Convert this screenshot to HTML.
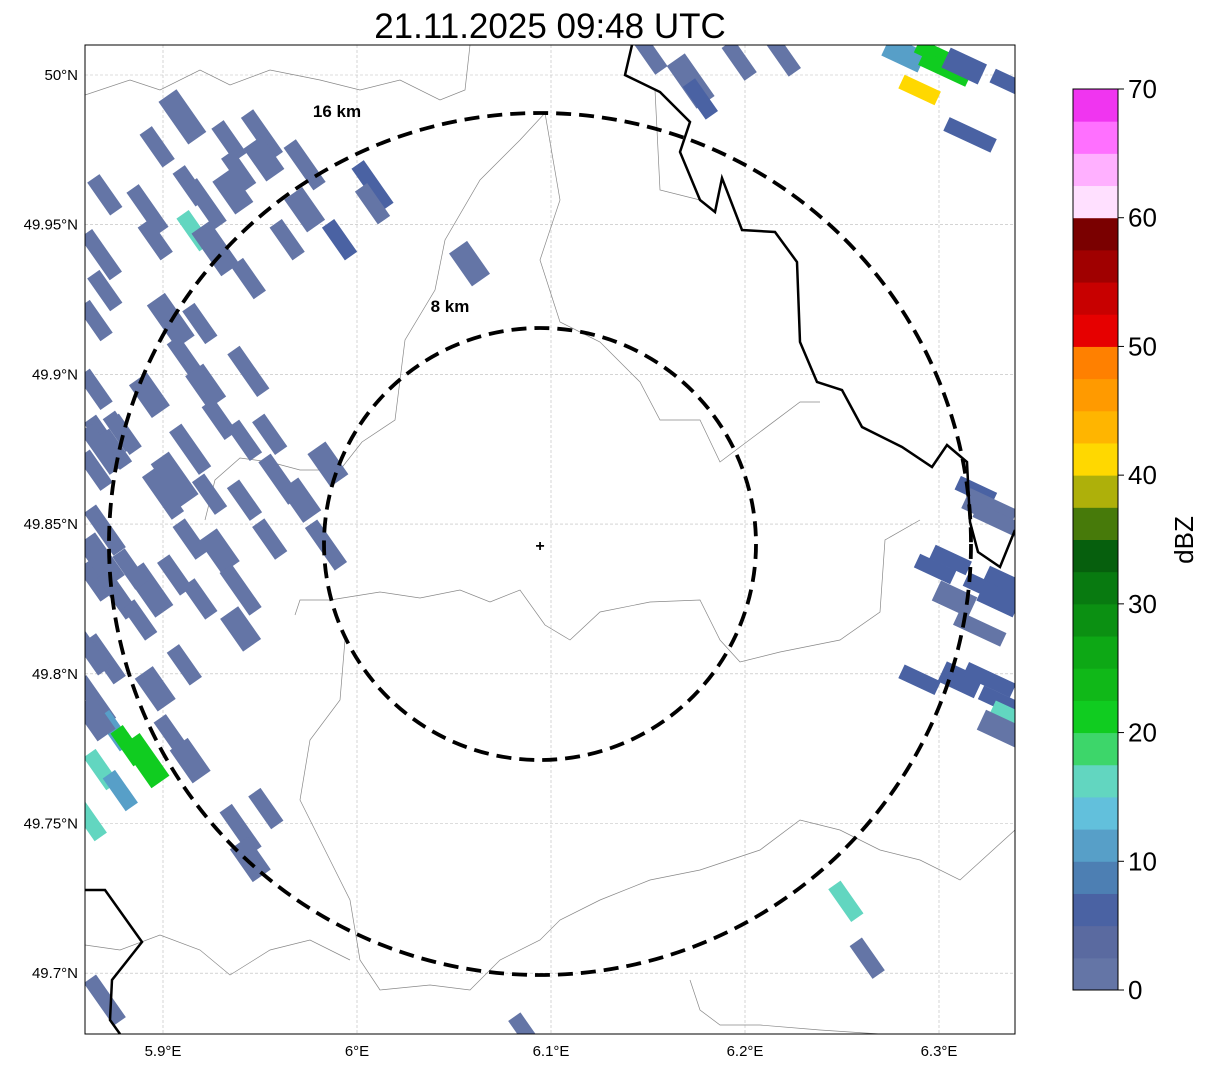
<!DOCTYPE html>
<html><head><meta charset="utf-8"><style>
body{margin:0;background:#fff;}
svg text{font-family:"Liberation Sans",sans-serif;}
</style></head><body>
<svg width="1207" height="1069" viewBox="0 0 1207 1069" xmlns="http://www.w3.org/2000/svg">
<text x="550" y="38" font-size="35" text-anchor="middle">21.11.2025 09:48 UTC</text>
<defs><clipPath id="mc"><rect x="85" y="45" width="930" height="989"/></clipPath></defs>
<g id="grid"></g>
<g clip-path="url(#mc)">
<g id="borders" fill="none" stroke="#888" stroke-width="0.7">
<polyline points="295,615 300,600 330,600 380,592 420,598 460,590 490,602 520,590 545,625 570,640 600,612 650,602 700,600 720,640 740,662 780,652 840,640 880,612 885,540 920,520"/>
<polyline points="545,113 520,140 480,180 445,240 435,290 405,340 395,420 362,442 340,470 300,470 270,462 240,458 215,480 205,520"/>
<polyline points="545,113 560,200 540,260 560,322 600,342 640,382 660,420 700,420 720,462 760,432 800,402 820,402"/>
<polyline points="85,95 130,80 160,90 200,70 230,85 270,70 320,80 360,90 400,80 440,100 465,90 470,45"/>
<polyline points="345,640 340,700 310,740 300,800 330,860 350,900 360,960 380,990 430,985 470,990 500,960 540,940 560,920 600,900 650,880 700,870 760,850 800,820 840,830 880,850 920,860 960,880 1015,830"/>
<polyline points="85,945 120,950 160,935 200,950 230,975 270,950 310,940 350,960"/>
<polyline points="690,980 700,1010 720,1025 760,1025 820,1030 880,1034"/>
<polyline points="655,90 660,190 700,200"/>
</g>
<g id="cells"></g>
<g fill="none" stroke="#000" stroke-width="2.5">
<polyline points="632,45 625,75 660,92 690,122 680,152 700,200 715,212 722,178 742,230 775,232 797,262 800,342 817,382 842,390 862,427 902,447 932,467 947,445 967,462 970,522 978,552 1000,567 1015,530"/>
<polyline points="85,890 105,890 142,942 112,980 110,1020 120,1034"/>
</g>
</g>
<g fill="none" stroke="#000" stroke-width="3.8" stroke-dasharray="15,8">
<circle cx="540" cy="544" r="431"/>
<circle cx="540" cy="544" r="216"/>
</g>
<text x="337" y="117" font-size="17" font-weight="bold" text-anchor="middle">16 km</text>
<text x="450" y="312" font-size="17" font-weight="bold" text-anchor="middle">8 km</text>
<text x="540" y="551" font-size="16" font-weight="bold" text-anchor="middle">+</text>
<rect x="85" y="45" width="930" height="989" fill="none" stroke="#000" stroke-width="1"/>
<g id="ticks"></g>
<g id="cbar"></g>
<text x="1193" y="540" font-size="26" text-anchor="middle" transform="rotate(-90 1193 540)">dBZ</text>
</svg>
<script>
const lonTicks=[5.9,6.0,6.1,6.2,6.3];
const lonLabels=["5.9°E","6°E","6.1°E","6.2°E","6.3°E"];
const latTicks=[50.0,49.95,49.9,49.85,49.8,49.75,49.7];
const latLabels=["50°N","49.95°N","49.9°N","49.85°N","49.8°N","49.75°N","49.7°N"];
const cbTicks=[0,10,20,30,40,50,60,70];
const cbColors=["#6475a6","#5a6aa0","#4a62a3","#4d7fb3","#579fc8","#62c0dc","#62d6c0","#3dd66a","#10cc20","#10b818","#0da815","#0b9012","#087a10","#065f0d","#477a0a","#aeb00a","#ffd800","#ffb500","#ff9a00","#ff8000","#e60000","#c80000","#a00000","#7a0000","#ffe0ff","#ffb0ff","#ff70ff","#f035f0"];
const cellLon=[5.910,5.897,5.934,5.951,5.952,5.914,5.922,5.939,5.936,5.892,5.896,5.916,5.927,5.944,5.964,5.973,5.973,5.991,6.008,6.008,6.058,5.868,5.870,5.865,5.904,5.919,5.911,5.944,5.922,5.865,5.870,5.875,5.893,5.914,5.929,5.942,5.906,5.924,5.942,5.960,5.971,5.955,5.984,5.914,5.929,5.870,5.865,5.878,5.893,5.906,5.919,5.940,5.940,5.888,5.870,5.911,5.896,5.865,5.875,5.882,5.891,5.868,5.878,5.906,5.914,5.862,5.940,5.953,5.945,5.870,6.087,6.151,6.172,6.177,6.197,6.218,6.282,6.298,6.303,6.290,6.313,6.316,6.337,6.319,6.326,6.306,6.298,6.326,6.331,6.334,6.321,6.290,6.311,6.326,6.331,6.337,6.334,6.252,6.263,6.331,6.308,5.880,5.900,5.955,5.985,5.868,5.878,5.865,5.868,5.875,5.883,5.862,5.865,5.870];
const cellLat=[49.986,49.976,49.978,49.980,49.972,49.963,49.957,49.968,49.961,49.955,49.945,49.948,49.942,49.932,49.945,49.970,49.955,49.945,49.963,49.957,49.937,49.940,49.928,49.918,49.918,49.917,49.906,49.901,49.896,49.895,49.878,49.875,49.893,49.875,49.885,49.878,49.865,49.860,49.858,49.865,49.858,49.845,49.843,49.845,49.841,49.848,49.831,49.825,49.828,49.833,49.825,49.828,49.815,49.818,49.805,49.803,49.795,49.791,49.781,49.776,49.771,49.768,49.761,49.778,49.771,49.751,49.748,49.755,49.738,49.691,49.680,50.007,49.998,49.992,50.005,50.008,50.007,50.007,50.002,49.995,50.003,49.980,49.997,49.861,49.855,49.838,49.835,49.828,49.825,49.831,49.815,49.798,49.798,49.798,49.791,49.786,49.781,49.724,49.705,49.851,49.825,49.880,49.860,49.880,49.870,49.875,49.881,49.868,49.838,49.828,49.835,49.808,49.785,49.960];
const cellDbz=[2,2,2,2,2,2,2,2,2,2,2,15,2,2,2,2,2,5,7,2,2,2,2,2,2,2,2,2,2,2,2,2,2,2,2,2,2,2,2,2,2,2,2,2,2,2,2,2,2,2,2,2,2,2,2,2,2,2,12,22,20,15,10,2,2,17,2,2,2,2,2,2,2,5,2,2,12,22,20,42,5,5,5,5,2,5,5,5,5,5,2,5,5,5,5,17,2,15,2,2,2,2,2,2,2,2,2,2,2,2,2,2,2,2];
const NS="http://www.w3.org/2000/svg";
function xS(lon){return 163+(lon-5.9)*1940;}
function yS(lat){return 75+(50-lat)*2994;}
function cbY(v){return 990-(v/70)*901;}
function colorFor(v){return cbColors[Math.max(0,Math.min(cbColors.length-1,Math.floor(v/2.5)))];}
function mk(tag,attrs,parent){const e=document.createElementNS(NS,tag);for(const k in attrs)e.setAttribute(k,attrs[k]);parent.appendChild(e);return e;}
const grid=document.getElementById('grid'),ticks=document.getElementById('ticks');
lonTicks.forEach((t,i)=>{const x=xS(t);
 const l=mk('line',{x1:x,x2:x,y1:45,y2:1034,stroke:'#bbb','stroke-width':0.6,'stroke-dasharray':'3,2'},grid);
 
 
 const tx=mk('text',{x:x,y:1056,'font-size':15,'text-anchor':'middle'},ticks);tx.textContent=lonLabels[i];
 
 });
latTicks.forEach((t,i)=>{const y=yS(t);
 const l=mk('line',{x1:85,x2:1015,y1:y,y2:y,stroke:'#bbb','stroke-width':0.6,'stroke-dasharray':'3,2'},grid);
 
 
 const tx=mk('text',{x:78,y:y+5,'font-size':15,'text-anchor':'end'},ticks);tx.textContent=latLabels[i];
 
 });
const cells=document.getElementById('cells');
cellLon.forEach((lon,i)=>{const x=xS(lon),y=yS(cellLat[i]);
 const ang=x>880?25:55;
 const len=(i%3===0)?52:40, w=(i%4===0)?22:15;
 const r=mk('rect',{x:x-len/2,y:y-w/2,width:len,height:w,fill:colorFor(cellDbz[i]),transform:`rotate(${ang} ${x} ${y})`},cells);
 
 });
const cb=document.getElementById('cbar');
cbColors.forEach((c,i)=>{const y0=cbY(i*2.5),y1=cbY((i+1)*2.5);
 const r=mk('rect',{x:1073,y:y1,width:45,height:y0-y1+0.5,fill:c},cb);
 
 });
mk('rect',{x:1073,y:89,width:45,height:901,fill:'none',stroke:'#000','stroke-width':1},cb);
cbTicks.forEach(t=>{const y=cbY(t);
 mk('line',{x1:1118,x2:1124,y1:y,y2:y,stroke:'#000'},cb);
 const tx=mk('text',{x:1128,y:y+9,'font-size':26},cb);tx.textContent=t;
 
 });
</script>
</body></html>
